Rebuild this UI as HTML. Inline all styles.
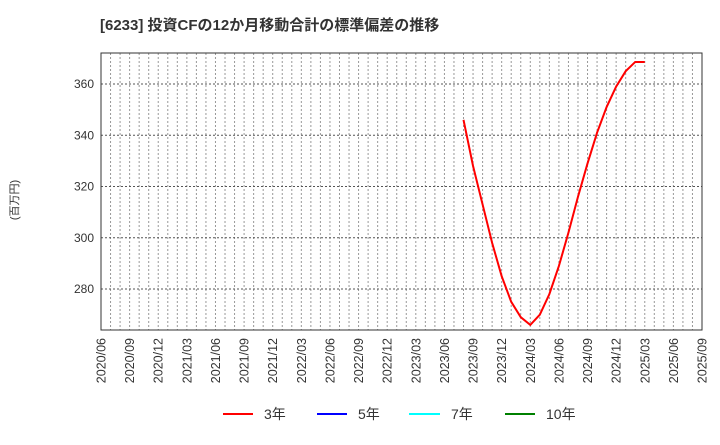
<!DOCTYPE html>
<html><head><meta charset="utf-8"><style>
body{margin:0;background:#fff;}
svg text{font-family:"Liberation Sans","Noto Sans CJK JP",sans-serif;}
</style></head><body>
<svg width="720" height="440" xmlns="http://www.w3.org/2000/svg" id="chart">
<text x="100" y="30" font-size="15" font-weight="bold" fill="#333">[6233]  投資CFの12か月移動合計の標準偏差の推移</text>
<text transform="translate(18,200) rotate(-90)" font-size="11" fill="#333" text-anchor="middle">(百万円)</text>
<g id="grid"></g>
<rect x="101" y="53" width="601" height="277" fill="none" stroke="#333" stroke-width="1"/>
<g id="yticks"></g><g id="xticks"></g>
<polyline id="line3" fill="none" stroke="#ff0000" stroke-width="2"/>
<g>
<g><line x1="223" y1="414" x2="253" y2="414" stroke="#ff0000" stroke-width="2"/><text x="264" y="419" font-size="14" fill="#333">3年</text></g>
<g><line x1="317" y1="414" x2="347" y2="414" stroke="#0000ff" stroke-width="2"/><text x="358" y="419" font-size="14" fill="#333">5年</text></g>
<g><line x1="409" y1="414" x2="440" y2="414" stroke="#00ffff" stroke-width="2"/><text x="451" y="419" font-size="14" fill="#333">7年</text></g>
<g><line x1="505" y1="414" x2="535" y2="414" stroke="#008000" stroke-width="2"/><text x="546" y="419" font-size="14" fill="#333">10年</text></g>
</g>
</svg>
<script>
const xLabels=["2020/06","2020/09","2020/12","2021/03","2021/06","2021/09","2021/12","2022/03","2022/06","2022/09","2022/12","2023/03","2023/06","2023/09","2023/12","2024/03","2024/06","2024/09","2024/12","2025/03","2025/06","2025/09"];
const yTicks=[280,300,320,340,360];
const seriesStartMonth=38; // months after 2020/06 (2023/08)
const series3y=[346,328,313,298,285,275,269,266,270,278,289,302,316,329,341,351,359,365,368.6,368.6];
const L=101,R=702,T=53,B=330,yMin=264,yMax=372.1,nMonths=63;
const xs=m=>L+(R-L)*m/nMonths;
const ys=v=>B-(B-T)*(v-yMin)/(yMax-yMin);
const NS="http://www.w3.org/2000/svg";
const grid=document.getElementById('grid'),yt=document.getElementById('yticks'),xt=document.getElementById('xticks');
for(let m=1;m<nMonths;m++){
 const l=document.createElementNS(NS,'line');
 l.setAttribute('x1',xs(m));l.setAttribute('x2',xs(m));l.setAttribute('y1',T);l.setAttribute('y2',B);
 l.setAttribute('stroke','#999');l.setAttribute('stroke-dasharray','2,2');
 
 
 grid.appendChild(l);
}
yTicks.forEach(v=>{
 const l=document.createElementNS(NS,'line');
 l.setAttribute('x1',L);l.setAttribute('x2',R);l.setAttribute('y1',ys(v));l.setAttribute('y2',ys(v));
 l.setAttribute('stroke','#555');l.setAttribute('stroke-dasharray','2,2');
 
 
 grid.appendChild(l);
 const t=document.createElementNS(NS,'text');
 t.setAttribute('x',L-7);t.setAttribute('y',ys(v)+4);t.setAttribute('text-anchor','end');t.setAttribute('font-size','12');t.setAttribute('fill','#333');
 t.textContent=v;
 
 
 yt.appendChild(t);
});
xLabels.forEach((s,i)=>{
 const t=document.createElementNS(NS,'text');
 const x=xs(i*3)+4.5,y=338;
 t.setAttribute('transform',`translate(${x},${y}) rotate(-90)`);
 t.setAttribute('text-anchor','end');t.setAttribute('font-size','12.5');t.setAttribute('fill','#333');
 t.textContent=s;
 
 
 xt.appendChild(t);
});
document.getElementById('line3').setAttribute('points',series3y.map((v,i)=>xs(seriesStartMonth+i)+','+ys(v)).join(' '));
</script>
</body></html>
